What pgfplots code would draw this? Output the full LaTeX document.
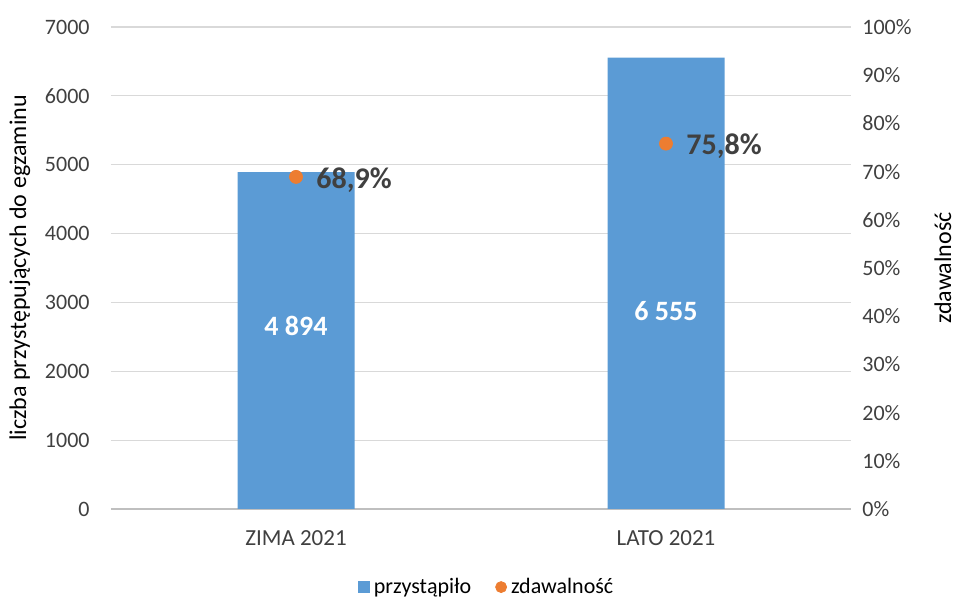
\documentclass[border=0pt]{standalone}
\usepackage{pgfplots}
\pgfplotsset{compat=1.18}
\usepackage{fontspec}
\setmainfont{Carlito}
\definecolor{barblue}{HTML}{5B9BD5}
\definecolor{dotorange}{HTML}{ED7D31}
\definecolor{gridgray}{HTML}{D9D9D9}
\definecolor{zerogray}{HTML}{BFBFBF}
\definecolor{ticktext}{HTML}{404040}
\definecolor{labtext}{HTML}{404040}
\begin{document}
\begin{tikzpicture}
\useasboundingbox (-55.5pt,-44.5pt) rectangle (422.5pt,254.5pt);
\begin{axis}[
  scale only axis, width=370pt, height=241pt,
  xmin=-0.5, xmax=1.5, ymin=0, ymax=7000,
  xtick={0,1}, xticklabels={ZIMA 2021, LATO 2021},
  ytick={0,1000,2000,3000,4000,5000,6000,7000},
  axis x line*=bottom, axis y line*=left,
  x axis line style={draw=zerogray, line width=0.75pt, -},
  y axis line style={draw=none},
  major tick length=0pt,
  ymajorgrids, grid style={gridgray, line width=0.6pt},
  tick label style={font=\fontsize{11}{13}\selectfont, text=ticktext},
  /pgf/number format/assume math mode=true,
  /pgf/number format/1000 sep={},
  scaled y ticks=false,
  yticklabel style={inner sep=0pt, xshift=-10.5pt},
  xticklabel style={inner sep=0pt, yshift=-10.5pt, font=\fontsize{11.5}{13}\selectfont},
  ylabel={liczba przystępujących do egzaminu},
  ylabel style={at={(axis description cs:-0.123,0.5)}, anchor=center, font=\fontsize{12}{14}\selectfont, text=black},
  clip=false,
]
\addplot[ybar, bar width=58.5pt, fill=barblue, draw=none] coordinates {(0,4894) (1,6555)};
\addplot[draw=none, mark=none, nodes near coords, point meta=explicit symbolic,
  nodes near coords style={anchor=center, inner sep=0pt, text=white, font=\bfseries\fontsize{14}{16}\selectfont}]
  coordinates {(0,2660) [4 894] (1,2880) [6 555]};
\end{axis}
\begin{axis}[
  scale only axis, width=370pt, height=241pt,
  xmin=-0.5, xmax=1.5, ymin=0, ymax=1,
  axis x line=none, axis y line*=right,
  y axis line style={draw=none},
  major tick length=0pt,
  ytick={0,0.1,0.2,0.3,0.4,0.5,0.6,0.7,0.8,0.9,1},
  yticklabels={0\%,10\%,20\%,30\%,40\%,50\%,60\%,70\%,80\%,90\%,100\%},
  tick label style={font=\fontsize{11}{13}\selectfont, text=ticktext},
  yticklabel style={inner sep=0pt, xshift=5.5pt},
  ylabel={zdawalność},
  ylabel style={at={(axis description cs:1.1243,0.5)}, anchor=center, rotate=0, font=\fontsize{12}{14}\selectfont, text=black},
  legend style={at={(axis description cs:0.509,-0.162)}, anchor=center, draw=none, fill=none,
    legend columns=2, font=\fontsize{11}{13}\selectfont, inner sep=0pt,
    /tikz/every even column/.append style={column sep=10pt}},
  legend cell align=left,
  clip=false,
]
\addlegendimage{legend image code/.code={\fill[barblue] (0pt,-2.75pt) rectangle (5.5pt,2.75pt);}}
\addlegendentry{przystąpiło}
\addplot[only marks, mark=*, mark size=3.25pt, color=dotorange,
  legend image code/.code={\fill[dotorange] (2.75pt,0pt) circle (2.75pt);},
  nodes near coords, point meta=explicit symbolic,
  nodes near coords style={anchor=west, inner sep=0pt, xshift=10pt, yshift=-1.5pt, text=labtext, font=\bfseries\fontsize{15}{17}\selectfont}]
  coordinates {(0,0.689) [68,9\%] (1,0.758) [75,8\%]};
\addlegendentry{zdawalność}
\end{axis}
\end{tikzpicture}
\end{document}
